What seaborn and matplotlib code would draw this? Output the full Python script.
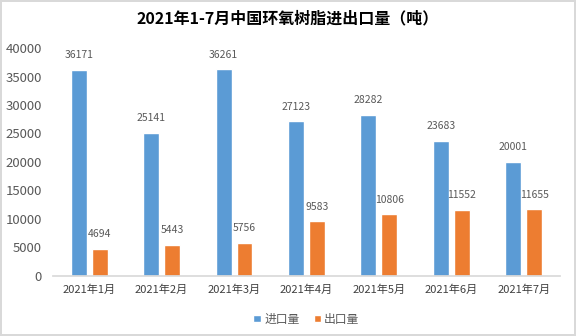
import matplotlib
matplotlib.use("Agg")
import matplotlib.pyplot as plt
import seaborn as sns
import pandas as pd

months = ["2021年1月", "2021年2月", "2021年3月", "2021年4月", "2021年5月", "2021年6月", "2021年7月"]
imports = [36171, 25141, 36261, 27123, 28282, 23683, 20001]
exports = [4694, 5443, 5756, 9583, 10806, 11552, 11655]
series = ["进口量", "出口量"]
colors = ["#5B9BD5", "#ED7D31"]
yticks = [0, 5000, 10000, 15000, 20000, 25000, 30000, 35000, 40000]

sns.set_theme(style="white")
plt.rcParams["font.family"] = ["Noto Sans CJK SC", "DejaVu Sans"]

df = pd.DataFrame({
    "month": months * 2,
    "value": imports + exports,
    "series": [series[0]] * len(months) + [series[1]] * len(months),
})

fig = plt.figure(figsize=(5.76, 3.36), dpi=100, linewidth=1.5, edgecolor="#d9d9d9")
ax = fig.add_axes([0.092, 0.179, 0.88, 0.678])
sns.barplot(data=df, x="month", y="value", hue="series", palette=colors,
            width=0.58, gap=0.24, ax=ax, legend=True, saturation=1)

for c in ax.containers:
    ax.bar_label(c, fmt="%d", padding=7, fontsize=7.5, color="#595959")

ax.set_ylim(0, 40000)
ax.set_yticks(yticks)
ax.set_yticklabels([str(v) for v in yticks])
ax.set_xlim(-0.5, len(months) - 0.5)
ax.set_xlabel("")
ax.set_ylabel("")
ax.tick_params(axis="y", labelsize=9.5, colors="#595959", length=0, pad=8)
ax.tick_params(axis="x", labelsize=8, colors="#404040", length=0, pad=6)
for s in ["top", "right", "left"]:
    ax.spines[s].set_visible(False)
ax.spines["bottom"].set_color("#d9d9d9")
ax.grid(False)

ax.legend(loc="center", bbox_to_anchor=(0.5, -0.19), ncol=2, frameon=False,
          fontsize=8.5, handlelength=0.6, handleheight=0.6, handletextpad=0.3,
          columnspacing=1.2, labelcolor="#595959")

fig.text(0.5, 0.945, "2021年1-7月中国环氧树脂进出口量（吨）", ha="center", va="center",
         fontsize=11.5, fontweight="bold", color="#000000")

fig.savefig("out.png", dpi=100)
